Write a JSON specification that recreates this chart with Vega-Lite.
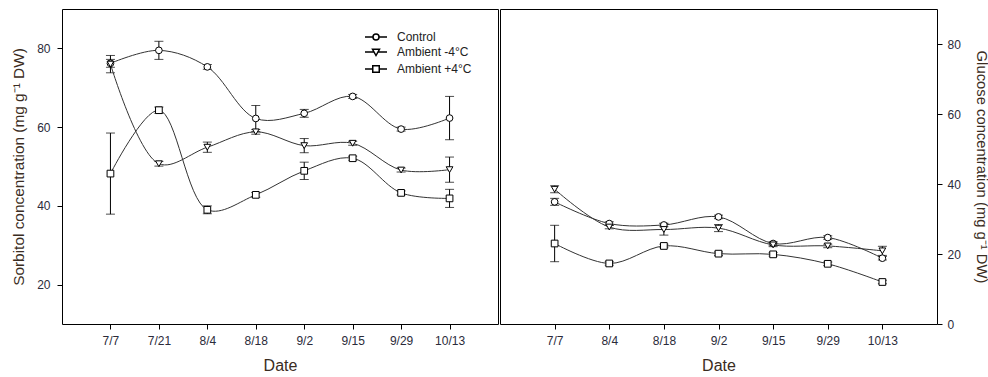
{
  "$schema": "https://vega.github.io/schema/vega-lite/v6.json",
  "background": "white",
  "padding": {"left": 11, "top": 8, "right": 0, "bottom": 0},
  "spacing": 0,
  "config": {
    "font": "Liberation Sans",
    "view": {"stroke": "black", "strokeWidth": 1},
    "axis": {
      "grid": false, "domain": false, "tickColor": "black", "tickSize": 5,
      "labelFont": "Liberation Sans", "labelFontSize": 12, "labelColor": "#2b2b3a",
      "titleFont": "Liberation Sans", "titleFontSize": 16, "titleFontWeight": "normal", "titleColor": "#3a2c22"
    },
    "legend": {
      "labelFont": "Liberation Sans", "labelFontSize": 12, "labelColor": "#222222"
    }
  },
  "datasets": {
    "sorbitol": [
      {"date": "7/7", "treatment": "Control", "value": 76.2, "err": 1.0},
      {"date": "7/21", "treatment": "Control", "value": 79.5, "err": 2.3},
      {"date": "8/4", "treatment": "Control", "value": 75.3, "err": 0.6},
      {"date": "8/18", "treatment": "Control", "value": 62.2, "err": 3.3},
      {"date": "9/2", "treatment": "Control", "value": 63.5, "err": 1.0},
      {"date": "9/15", "treatment": "Control", "value": 67.8, "err": 0.5},
      {"date": "9/29", "treatment": "Control", "value": 59.5, "err": 0.5},
      {"date": "10/13", "treatment": "Control", "value": 62.3, "err": 5.5},
      {"date": "7/7", "treatment": "Ambient -4°C", "value": 76.0, "err": 2.2},
      {"date": "7/21", "treatment": "Ambient -4°C", "value": 50.7, "err": 0.6},
      {"date": "8/4", "treatment": "Ambient -4°C", "value": 54.9, "err": 1.3},
      {"date": "8/18", "treatment": "Ambient -4°C", "value": 58.8, "err": 0.6},
      {"date": "9/2", "treatment": "Ambient -4°C", "value": 55.3, "err": 1.8},
      {"date": "9/15", "treatment": "Ambient -4°C", "value": 55.9, "err": 0.5},
      {"date": "9/29", "treatment": "Ambient -4°C", "value": 49.1, "err": 0.5},
      {"date": "10/13", "treatment": "Ambient -4°C", "value": 49.2, "err": 3.2},
      {"date": "7/7", "treatment": "Ambient +4°C", "value": 48.2, "err": 10.3},
      {"date": "7/21", "treatment": "Ambient +4°C", "value": 64.3, "err": 0.8},
      {"date": "8/4", "treatment": "Ambient +4°C", "value": 39.0, "err": 1.0},
      {"date": "8/18", "treatment": "Ambient +4°C", "value": 42.8, "err": 0.6},
      {"date": "9/2", "treatment": "Ambient +4°C", "value": 48.9, "err": 2.2},
      {"date": "9/15", "treatment": "Ambient +4°C", "value": 52.1, "err": 0.5},
      {"date": "9/29", "treatment": "Ambient +4°C", "value": 43.3, "err": 0.5},
      {"date": "10/13", "treatment": "Ambient +4°C", "value": 41.9, "err": 2.3}
    ],
    "glucose": [
      {"date": "7/7", "treatment": "Control", "value": 34.9, "err": 1.0},
      {"date": "8/4", "treatment": "Control", "value": 28.7, "err": 0.5},
      {"date": "8/18", "treatment": "Control", "value": 28.3, "err": 0.5},
      {"date": "9/2", "treatment": "Control", "value": 30.6, "err": 0.5},
      {"date": "9/15", "treatment": "Control", "value": 23.0, "err": 0.5},
      {"date": "9/29", "treatment": "Control", "value": 24.7, "err": 0.5},
      {"date": "10/13", "treatment": "Control", "value": 18.8, "err": 0.5},
      {"date": "7/7", "treatment": "Ambient -4°C", "value": 38.5, "err": 1.0},
      {"date": "8/4", "treatment": "Ambient -4°C", "value": 27.7, "err": 0.5},
      {"date": "8/18", "treatment": "Ambient -4°C", "value": 27.0, "err": 1.6},
      {"date": "9/2", "treatment": "Ambient -4°C", "value": 27.4, "err": 1.0},
      {"date": "9/15", "treatment": "Ambient -4°C", "value": 22.6, "err": 0.5},
      {"date": "9/29", "treatment": "Ambient -4°C", "value": 22.3, "err": 0.5},
      {"date": "10/13", "treatment": "Ambient -4°C", "value": 20.9, "err": 1.3},
      {"date": "7/7", "treatment": "Ambient +4°C", "value": 23.0, "err": 5.2},
      {"date": "8/4", "treatment": "Ambient +4°C", "value": 17.3, "err": 0.5},
      {"date": "8/18", "treatment": "Ambient +4°C", "value": 22.3, "err": 0.5},
      {"date": "9/2", "treatment": "Ambient +4°C", "value": 20.1, "err": 0.5},
      {"date": "9/15", "treatment": "Ambient +4°C", "value": 19.9, "err": 0.5},
      {"date": "9/29", "treatment": "Ambient +4°C", "value": 17.2, "err": 0.5},
      {"date": "10/13", "treatment": "Ambient +4°C", "value": 12.0, "err": 0.5}
    ]
  },
  "resolve": {"scale": {"shape": "independent", "y": "independent", "x": "independent"}},
  "hconcat": [
    {
      "width": 436,
      "height": 315,
      "data": {"name": "sorbitol"},
      "encoding": {
        "x": {"field": "date", "type": "ordinal", "sort": ["7/7", "7/21", "8/4", "8/18", "9/2", "9/15", "9/29", "10/13"],
          "scale": {"type": "point", "padding": 1},
          "axis": {"title": "Date", "labelAngle": 0, "labelPadding": 6, "titlePadding": 11}}
      },
      "resolve": {"scale": {"shape": "independent"}},
      "layer": [
        {
          "mark": {"type": "errorbar", "ticks": {"size": 9, "color": "black"}, "rule": {"color": "black"}, "thickness": 1},
          "encoding": {
            "y": {"field": "value", "type": "quantitative", "scale": {"domain": [10, 90], "nice": false, "zero": false},
              "axis": {"title": "Sorbitol concentration (mg g⁻¹ DW)", "titleFontSize": 15.4, "values": [20, 40, 60, 80], "labelPadding": 7, "titlePadding": 10}},
            "yError": {"field": "err"},
            "detail": {"field": "treatment"}
          }
        },
        {
          "mark": {"type": "line", "interpolate": "catmull-rom", "color": "#333333", "strokeWidth": 1},
          "encoding": {
            "y": {"field": "value", "type": "quantitative"},
            "detail": {"field": "treatment"}
          }
        },
        {
          "mark": {"type": "point", "filled": false, "fill": "white", "fillOpacity": 1, "color": "black", "stroke": "black", "strokeWidth": 1, "opacity": 1, "size": 45},
          "encoding": {
            "y": {"field": "value", "type": "quantitative"},
            "shape": {"field": "treatment", "type": "nominal",
              "scale": {"domain": ["Control", "Ambient -4°C", "Ambient +4°C"], "range": ["circle", "triangle-down", "square"]},
              "legend": null}
          }
        },
        {
          "transform": [{"filter": "false"}],
          "mark": {"type": "point", "filled": false, "fill": "white", "fillOpacity": 1, "color": "black", "stroke": "black", "strokeWidth": 1, "opacity": 1},
          "encoding": {
            "y": {"field": "value", "type": "quantitative"},
            "shape": {"field": "treatment", "type": "nominal",
              "scale": {"domain": ["Control", "Ambient -4°C", "Ambient +4°C"],
                "range": ["M-2.2,0H-0.6A0.6,0.6 0 1,1 0.6,0A0.6,0.6 0 1,1 -0.6,0M0.6,0H2.2", "M-2.2,0H-0.39M0.39,0H2.2M-0.7,-0.55H0.7L0,0.7Z", "M-2.2,0H-0.65M0.65,0H2.2M-0.65,-0.65H0.65V0.65H-0.65Z"]},
              "legend": {"title": null, "orient": "none", "legendX": 308, "legendY": 22, "labelOffset": 15, "rowPadding": 3}
            }
          }
        }
      ]
    },
    {
      "width": 437,
      "height": 315,
      "data": {"name": "glucose"},
      "encoding": {
        "x": {"field": "date", "type": "ordinal", "sort": ["7/7", "8/4", "8/18", "9/2", "9/15", "9/29", "10/13"],
          "scale": {"type": "point", "padding": 1},
          "axis": {"title": "Date", "labelAngle": 0, "labelPadding": 6, "titlePadding": 11}}
      },
      "layer": [
        {
          "mark": {"type": "errorbar", "ticks": {"size": 9, "color": "black"}, "rule": {"color": "black"}, "thickness": 1},
          "encoding": {
            "y": {"field": "value", "type": "quantitative", "scale": {"domain": [0, 90], "nice": false},
              "axis": {"orient": "right", "title": "Glucose concentration (mg g⁻¹ DW)", "titleFontSize": 14.8, "values": [0, 20, 40, 60, 80], "labelPadding": 5, "titlePadding": 13}},
            "yError": {"field": "err"},
            "detail": {"field": "treatment"}
          }
        },
        {
          "mark": {"type": "line", "interpolate": "catmull-rom", "color": "#333333", "strokeWidth": 1},
          "encoding": {
            "y": {"field": "value", "type": "quantitative"},
            "detail": {"field": "treatment"}
          }
        },
        {
          "mark": {"type": "point", "filled": false, "fill": "white", "fillOpacity": 1, "color": "black", "stroke": "black", "strokeWidth": 1, "opacity": 1, "size": 45},
          "encoding": {
            "y": {"field": "value", "type": "quantitative"},
            "shape": {"field": "treatment", "type": "nominal",
              "scale": {"domain": ["Control", "Ambient -4°C", "Ambient +4°C"], "range": ["circle", "triangle-down", "square"]},
              "legend": null}
          }
        }
      ]
    }
  ]
}
